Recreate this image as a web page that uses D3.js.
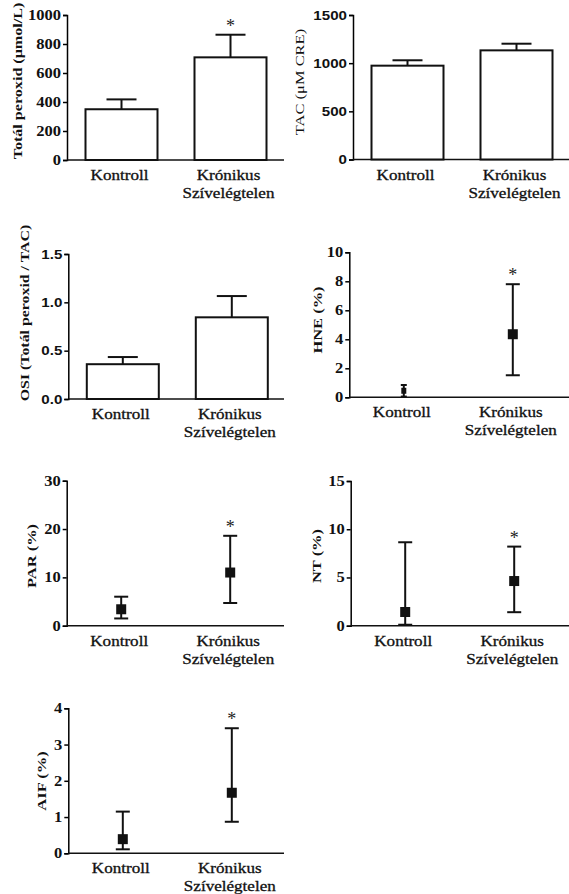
<!DOCTYPE html>
<html>
<head>
<meta charset="utf-8">
<script src="https://cdn.jsdelivr.net/npm/d3@7"></script>
<style>
  body { margin: 0; background: #fff; }
  svg { display: block; }
</style>
</head>
<body>
<svg></svg>
<script>
var svgWidth = 569;
var svgHeight = 894;

// categories (two lines for the second one)
var categories = ["Kontroll", "Krónikus"];
var categoryLines = [["Kontroll"], ["Krónikus", "Szívelégtelen"]];

// bar panels: mean and top of the error bar
var peroxidMean = [350, 708];
var peroxidErr = [418, 864];
var peroxidTicks = [0, 200, 400, 600, 800, 1000];

var tacMean = [974, 1133];
var tacErr = [1030, 1202];
var tacTicks = [0, 500, 1000, 1500];

var osiMean = [0.36, 0.845];
var osiErr = [0.434, 1.065];
var osiTicks = [0, 0.5, 1.0, 1.5];

// point panels: median, lower and upper whisker
var hneMedian = [0.45, 4.35];
var hneLow = [0.05, 1.52];
var hneHigh = [0.85, 7.8];
var hneTicks = [0, 2, 4, 6, 8, 10];

var parMedian = [3.4, 11.0];
var parLow = [1.5, 4.7];
var parHigh = [6.0, 18.6];
var parTicks = [0, 10, 20, 30];

var ntMedian = [1.42, 4.63];
var ntLow = [0.1, 1.4];
var ntHigh = [8.65, 8.2];
var ntTicks = [0, 5, 10, 15];

var aifMedian = [0.39, 1.67];
var aifLow = [0.11, 0.87];
var aifHigh = [1.15, 3.45];
var aifTicks = [0, 1, 2, 3, 4];

var SERIF = '"Liberation Serif", "Times New Roman", serif';
var SANS = '"Liberation Sans", Arial, sans-serif';
var STRETCH = 1.22;

var svg = d3.select('svg')
    .attr('width', svgWidth)
    .attr('height', svgHeight)
    .style('background', '#fff');

/* Draw one panel: axes, labels and marks */
function drawPanel(p){
    var g = svg.append('g');
    var x = d3.scalePoint().domain(categories).range([p.ax, p.ax + 218]).padding(0.5);
    var y = d3.scaleLinear().domain([0, p.max]).range([p.y0, p.yTop]);

    // y axis
    var yAxis = g.append('g')
        .attr('transform', `translate(${p.ax},0)`)
        .call(d3.axisLeft(y).tickValues(p.ticks).tickSize(4).tickPadding(2)
            .tickFormat(p.fmt || d3.format('d')));
    yAxis.select('.domain').attr('stroke-width', 1.5);
    yAxis.selectAll('.tick line').attr('stroke-width', 1.5);
    yAxis.selectAll('.tick text')
        .attr('x', null)
        .attr('transform', `translate(-6,0) scale(${p.sansTicks ? 1.12 : 1.18},1)`)
        .style('font-family', p.sansTicks ? SANS : SERIF)
        .style('font-weight', 'bold')
        .style('font-size', p.sansTicks ? '13.5px' : '14px')
        .attr('fill', '#111');

    // x axis line
    g.append('line')
        .attr('x1', p.ax).attr('x2', p.xEnd)
        .attr('y1', p.y0).attr('y2', p.y0)
        .attr('stroke', '#111').attr('stroke-width', 1.5);

    // y label
    g.append('text')
        .text(p.label)
        .attr('transform', `translate(${p.lx},${p.ly}) rotate(-90) scale(${p.labelStretch || STRETCH},1)`)
        .attr('text-anchor', 'middle')
        .attr('dy', '0.35em')
        .style('font-family', SERIF)
        .style('font-weight', p.labelNormal ? 'normal' : 'bold')
        .style('font-size', p.labelSize || '13.5px')
        .attr('fill', '#111');

    // category labels
    categoryLines.forEach((lines, i) => {
        lines.forEach((t, j) => {
            g.append('text')
                .text(t)
                .attr('transform', `translate(${x(categories[i]) - 2},${p.y0 + 20 + j * 18}) scale(${STRETCH},1)`)
                .attr('text-anchor', 'middle')
                .style('font-family', SERIF)
                .style('font-size', '14px')
                .attr('fill', '#111')
                .attr('stroke', '#111')
                .attr('stroke-width', 0.3);
        });
    });

    var rows = categories.map((c, i) => ({
        cat: c,
        mid: p.mid[i],
        hi: p.hi[i],
        lo: p.lo ? p.lo[i] : null
    }));

    if(p.type === 'bar'){
        var bw = 72;
        g.selectAll('rect.bar').data(rows).enter()
            .append('rect')
            .attr('class', 'bar')
            .attr('x', d => x(d.cat) - bw / 2)
            .attr('y', d => y(d.mid))
            .attr('width', bw)
            .attr('height', d => p.y0 - y(d.mid))
            .attr('fill', '#fff')
            .attr('stroke', '#111')
            .attr('stroke-width', 2);
        g.selectAll('line.err').data(rows).enter()
            .append('line')
            .attr('class', 'err')
            .attr('x1', d => x(d.cat)).attr('x2', d => x(d.cat))
            .attr('y1', d => y(d.mid)).attr('y2', d => y(d.hi))
            .attr('stroke', '#111').attr('stroke-width', 2);
        g.selectAll('line.cap').data(rows).enter()
            .append('line')
            .attr('class', 'cap')
            .attr('x1', d => x(d.cat) - 15).attr('x2', d => x(d.cat) + 15)
            .attr('y1', d => y(d.hi)).attr('y2', d => y(d.hi))
            .attr('stroke', '#111').attr('stroke-width', 2);
    } else {
        var capW = 7;
        g.selectAll('line.err').data(rows).enter()
            .append('line')
            .attr('class', 'err')
            .attr('x1', d => x(d.cat)).attr('x2', d => x(d.cat))
            .attr('y1', d => y(d.lo)).attr('y2', d => y(d.hi))
            .attr('stroke', '#111').attr('stroke-width', 2);
        ['hi', 'lo'].forEach(k => {
            g.selectAll(`line.cap-${k}`).data(rows).enter()
                .append('line')
                .attr('class', `cap-${k}`)
                .attr('x1', (d, i) => x(d.cat) - (p.small && i === 0 ? 3 : capW))
                .attr('x2', (d, i) => x(d.cat) + (p.small && i === 0 ? 3 : capW))
                .attr('y1', d => y(d[k])).attr('y2', d => y(d[k]))
                .attr('stroke', '#111').attr('stroke-width', 2);
        });
        g.selectAll('rect.pt').data(rows).enter()
            .append('rect')
            .attr('class', 'pt')
            .attr('x', (d, i) => x(d.cat) - (p.small && i === 0 ? 2.5 : 5))
            .attr('y', (d, i) => y(d.mid) - (p.small && i === 0 ? 3 : 5))
            .attr('width', (d, i) => p.small && i === 0 ? 5 : 10)
            .attr('height', (d, i) => p.small && i === 0 ? 6 : 10)
            .attr('fill', '#111');
    }

    // significance star above the second group
    if(p.star){
        g.append('text')
            .text('*')
            .attr('x', x(categories[1]))
            .attr('y', y(p.hi[1]) - 3)
            .attr('text-anchor', 'middle')
            .style('font-family', SERIF)
            .style('font-size', '18px')
            .attr('fill', '#222');
    }
}

var panels = [
    {type: 'bar', ax: 67, y0: 160, yTop: 15, xEnd: 284, max: 1000, ticks: peroxidTicks,
     mid: peroxidMean, hi: peroxidErr, star: true, label: 'Totál peroxid (μmol/L)', lx: 17, ly: 81,
     labelSize: '13px', labelStretch: 1.24},
    {type: 'bar', ax: 353, y0: 159.5, yTop: 15, xEnd: 569, max: 1500, ticks: tacTicks,
     mid: tacMean, hi: tacErr, sansTicks: true, label: 'TAC (μM CRE)', lx: 299, ly: 82, labelNormal: true},
    {type: 'bar', ax: 68.3, y0: 399, yTop: 254, xEnd: 284, max: 1.5, ticks: osiTicks, fmt: d3.format('.1f'),
     mid: osiMean, hi: osiErr, sansTicks: true, label: 'OSI (Totál peroxid / TAC)', lx: 24, ly: 313,
     labelSize: '13px'},
    {type: 'pt', ax: 349.3, y0: 397.3, yTop: 252.3, xEnd: 569, max: 10, ticks: hneTicks,
     mid: hneMedian, lo: hneLow, hi: hneHigh, star: true, small: true, label: 'HNE (%)', lx: 317, ly: 320},
    {type: 'pt', ax: 66.7, y0: 625.7, yTop: 480.7, xEnd: 284, max: 30, ticks: parTicks,
     mid: parMedian, lo: parLow, hi: parHigh, star: true, label: 'PAR (%)', lx: 31, ly: 556},
    {type: 'pt', ax: 350.7, y0: 625.7, yTop: 481, xEnd: 569, max: 15, ticks: ntTicks,
     mid: ntMedian, lo: ntLow, hi: ntHigh, star: true, label: 'NT (%)', lx: 316, ly: 556},
    {type: 'pt', ax: 68.3, y0: 853.3, yTop: 708.3, xEnd: 284, max: 4, ticks: aifTicks,
     mid: aifMedian, lo: aifLow, hi: aifHigh, star: true, label: 'AIF (%)', lx: 41, ly: 781}
];

panels.forEach(p => drawPanel(p));
</script>
</body>
</html>
